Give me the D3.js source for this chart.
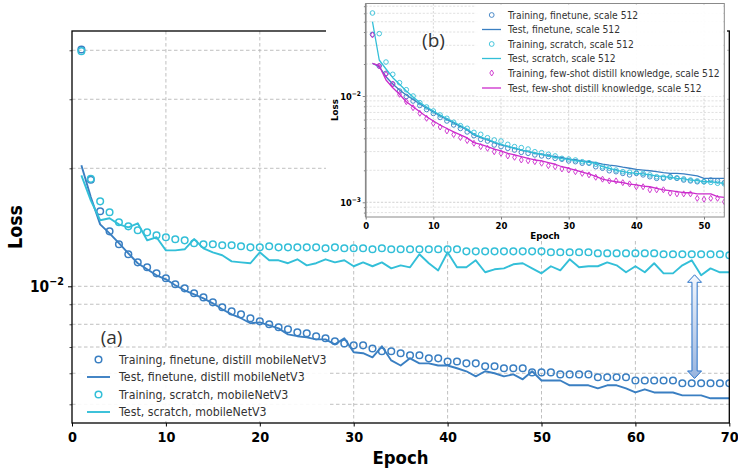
<!DOCTYPE html>
<html><head><meta charset="utf-8">
<script src="https://cdn.jsdelivr.net/npm/d3@7"></script>
<style>body{margin:0;background:#fff}svg{display:block}</style>
</head><body>
<svg id="c" width="738" height="468"></svg>
<script>
// ---------------- DATA ----------------
const mainEpochs = d3.range(1, 71);
const mainXTicks = [0,10,20,30,40,50,60,70];
const mainYGrid = [0.005,0.006,0.007,0.008,0.009,0.01,0.02,0.03,0.04];
const mainLabels = ["Training, finetune, distill mobileNetV3","Test, finetune, distill mobileNetV3","Training, scratch, mobileNetV3","Test, scratch, mobileNetV3"];

const mainTrainFinetune = [0.0402,0.0187,0.01554,0.01381,0.01280,0.01207,0.01151,0.01118,0.01079,0.01048,
0.01012,0.00988,0.00960,0.00937,0.00910,0.00884,0.00863,0.00848,0.00829,0.00814,
0.00800,0.00786,0.00777,0.00763,0.00759,0.00746,0.00737,0.00724,0.00715,0.00707,
0.00707,0.00694,0.00683,0.00683,0.00675,0.00667,0.00667,0.00655,0.00655,0.00643,
0.00643,0.00636,0.00636,0.00625,0.00625,0.00618,0.00618,0.00618,0.00603,0.00603,
0.00603,0.00596,0.00596,0.00596,0.00596,0.00586,0.00586,0.00586,0.00586,0.00575,
0.00575,0.00575,0.00575,0.00575,0.00566,0.00566,0.00566,0.00566,0.00566,0.00566];

const mainTestFinetune = [0.02035,0.0169,0.01439,0.01365,0.01288,0.01214,0.01145,0.01105,0.01067,0.01042,
0.01006,0.00977,0.00954,0.00932,0.00905,0.00874,0.00848,0.00829,0.00805,0.00809,
0.00795,0.00781,0.00754,0.00746,0.00741,0.00732,0.00732,0.00711,0.00737,0.00679,
0.00675,0.00659,0.00703,0.00647,0.00628,0.00655,0.00636,0.00636,0.00628,0.00628,
0.00618,0.00607,0.00589,0.00607,0.00600,0.00589,0.00596,0.00579,0.00607,0.00575,
0.00575,0.00575,0.00559,0.00559,0.00559,0.00549,0.00559,0.00559,0.00549,0.00536,
0.00546,0.00536,0.00536,0.00536,0.00527,0.00527,0.00527,0.00518,0.00518,0.00518];

const mainTrainScratch = [0.0398,0.0188,0.01647,0.01545,0.01457,0.01422,0.01390,0.01373,0.01349,0.01334,
0.01318,0.01310,0.01288,0.01280,0.01280,0.01273,0.01273,0.01265,0.01257,0.01257,
0.01265,0.01257,0.01257,0.01257,0.01257,0.01257,0.01250,0.01257,0.01250,0.01250,
0.01250,0.01243,0.01250,0.01243,0.01243,0.01243,0.01243,0.01243,0.01243,0.01243,
0.01243,0.01228,0.01228,0.01228,0.01228,0.01228,0.01228,0.01228,0.01228,0.01228,
0.01221,0.01221,0.01221,0.01221,0.01221,0.01214,0.01214,0.01214,0.01214,0.01214,
0.01214,0.01214,0.01207,0.01207,0.01207,0.01207,0.01207,0.01207,0.01207,0.01200];

const mainTestScratch = [0.01919,0.01657,0.01474,0.01491,0.01439,0.01414,0.01448,0.01310,0.01334,0.01235,
0.01235,0.01243,0.01320,0.01250,0.01221,0.01200,0.01158,0.01151,0.01145,0.01221,
0.01165,0.01165,0.01145,0.01172,0.01131,0.01145,0.01172,0.01151,0.01165,0.01125,
0.01151,0.01125,0.01151,0.01111,0.01131,0.01118,0.01207,0.01145,0.01098,0.01221,
0.01118,0.01118,0.01165,0.01086,0.01105,0.01111,0.01138,0.01145,0.01111,0.01079,
0.01125,0.01098,0.01172,0.01118,0.01125,0.01125,0.01151,0.01131,0.01086,0.01125,
0.01086,0.01145,0.01079,0.01079,0.01131,0.01165,0.01067,0.01111,0.01086,0.01086];

// gap arrow annotation (epoch, loss at top, loss at bottom)
const gapArrow = {epoch: 66.3, top: 0.0107, bottom: 0.00582};

const insetEpochs = d3.range(1, 54);
const insetXTicks = [0,10,20,30,40,50];
const insetYGrid = [0.0008,0.0009,0.001,0.002,0.003,0.004,0.005,0.006,0.007,0.008,0.009,0.01,0.02,0.03,0.04,0.05,0.06,0.07];
const insetLabels = ["Training, finetune, scale 512","Test, finetune, scale 512","Training, scratch, scale 512","Test, scratch, scale 512","Training, few-shot distill knowledge, scale 512","Test, few-shot distill knowledge, scale 512"];

const insetTrainFinetune = [0.0380,0.01915,0.01635,0.01297,0.01114,0.00989,0.00897,0.00814,0.00746,0.00685,
0.00628,0.00582,0.00534,0.00495,0.00459,0.00423,0.00391,0.00377,0.00346,0.00334,
0.00322,0.00310,0.00295,0.00289,0.00279,0.00273,0.00269,0.00259,0.00254,0.00245,
0.00241,0.00233,0.00233,0.00216,0.00209,0.00198,0.00194,0.00187,0.00181,0.00187,
0.00181,0.00174,0.00168,0.00168,0.00174,0.00168,0.00162,0.00159,0.00156,0.00156,
0.00162,0.00159,0.00153];
const insetTestFinetune = [0.0203,0.01886,0.01519,0.01297,0.01139,0.01022,0.00927,0.00841,0.00771,0.00707,
0.00648,0.00601,0.00557,0.00516,0.00479,0.00430,0.00405,0.00386,0.00364,0.00346,
0.00334,0.00322,0.00310,0.00299,0.00289,0.00283,0.00274,0.00269,0.00263,0.00255,
0.00250,0.00245,0.00241,0.00236,0.00229,0.00224,0.00220,0.00214,0.00209,0.00204,
0.00201,0.00198,0.00194,0.00190,0.00187,0.00187,0.00185,0.00181,0.00177,0.00168,
0.00168,0.00168,0.00168];
const insetTrainScratch = [0.0604,0.0386,0.02088,0.0160,0.01334,0.01146,0.0100,0.00865,0.00788,0.00723,
0.00663,0.00617,0.00566,0.00526,0.00497,0.00455,0.00436,0.00405,0.00386,0.00377,
0.00351,0.00334,0.00327,0.00317,0.00299,0.00293,0.00283,0.00273,0.00259,0.00255,
0.00250,0.00241,0.00236,0.00228,0.00216,0.00209,0.00201,0.00194,0.00192,0.00190,
0.00187,0.00181,0.00174,0.00172,0.00172,0.00170,0.00166,0.00162,0.00159,0.00156,
0.00154,0.00151,0.00149];
const insetTestScratch = [0.0500,0.02182,0.01795,0.01486,0.01288,0.01114,0.00979,0.00869,0.00788,0.00723,
0.00663,0.00614,0.00569,0.00528,0.00489,0.00436,0.00411,0.00390,0.00369,0.00350,
0.00335,0.00324,0.00310,0.00301,0.00291,0.00282,0.00273,0.00264,0.00258,0.00253,
0.00247,0.00242,0.00237,0.00233,0.00216,0.00209,0.00201,0.00194,0.00190,0.00187,
0.00185,0.00181,0.00177,0.00174,0.00172,0.00168,0.00166,0.00162,0.00160,0.00156,
0.00156,0.00153,0.00151];
const insetTrainFewshot = [0.0375,0.01915,0.0160,0.01297,0.01038,0.00884,0.00776,0.00688,0.00617,0.00554,
0.00511,0.00469,0.00434,0.00407,0.00381,0.00359,0.00334,0.00322,0.00299,0.00289,
0.00273,0.00265,0.00250,0.00246,0.00241,0.00233,0.00221,0.00216,0.00206,0.00201,
0.00194,0.00187,0.00181,0.00172,0.00165,0.00159,0.00159,0.00153,0.00149,0.00140,
0.00140,0.00131,0.00131,0.00131,0.00122,0.00120,0.00120,0.00120,0.00109,0.00107,
0.00109,0.00109,0.00101];
const insetTestFewshot = [0.0203,0.0193,0.01414,0.01197,0.01038,0.00884,0.00793,0.00712,0.00639,0.00582,
0.00534,0.00495,0.00459,0.00430,0.00403,0.00364,0.00351,0.00334,0.00317,0.00304,
0.00289,0.00279,0.00269,0.00259,0.00250,0.00245,0.00236,0.00228,0.00216,0.00209,
0.00201,0.00192,0.00185,0.00175,0.00165,0.00160,0.00156,0.00153,0.00148,0.00146,
0.00142,0.00140,0.00135,0.00131,0.00129,0.00126,0.00123,0.00123,0.00120,0.00120,
0.00120,0.00113,0.00111];

// ---------------- STYLE ----------------
const BLUE = "#3a7fc2", CYAN = "#33bfd8", MAG = "#cc2ccc";
const FONT = "DejaVu Sans";
const SX = 0.92;

const svg = d3.select("#c");

function label(parent, x, y, str, o = {}) {
  const g = parent.append("g").attr("transform",
    `translate(${x},${y}) rotate(${o.rotate || 0}) scale(${o.sx == null ? SX : o.sx},1)`);
  return g.append("text")
    .attr("text-anchor", o.anchor || "start")
    .attr("dominant-baseline", "central")
    .attr("font-family", o.family || FONT)
    .attr("font-size", o.size || 12)
    .attr("font-weight", o.weight || "normal")
    .attr("fill", o.color || "#000")
    .text(str);
}
function sciLabel(parent, x, y, exp, size, supSize) {
  const g = parent.append("g").attr("transform", `translate(${x},${y}) scale(${SX},1)`);
  const t = g.append("text").attr("text-anchor", "end").attr("dominant-baseline", "central")
    .attr("font-family", FONT).attr("font-weight", "bold").attr("font-size", size);
  t.append("tspan").text("10");
  t.append("tspan").attr("font-size", supSize).attr("dy", -size * 0.42).text("\u2212" + exp);
}

// ---------------- MAIN PLOT ----------------
const X0 = 72, X1 = 729.3, Y0 = 31, Y1 = 423;
const xM = d3.scaleLinear().domain([0, 70]).range([X0, X1]);
const yM = d3.scaleLog().domain([0.00448, 0.0448]).range([Y1, Y0]);

const defs = svg.append("defs");
defs.append("clipPath").attr("id", "clipMain").append("rect")
  .attr("x", X0).attr("y", Y0).attr("width", X1 - X0).attr("height", Y1 - Y0);

const grid = svg.append("g").attr("stroke", "#b0b0b0").attr("stroke-width", 0.8).attr("stroke-dasharray", "3.5,2.5");
grid.selectAll("line.h").data(mainYGrid).join("line").attr("class", "h")
  .attr("x1", X0).attr("x2", X1).attr("y1", d => yM(d)).attr("y2", d => yM(d));
grid.selectAll("line.v").data(mainXTicks.slice(1, -1)).join("line").attr("class", "v")
  .attr("x1", d => xM(d)).attr("x2", d => xM(d)).attr("y1", Y0).attr("y2", Y1);

const plotM = svg.append("g").attr("clip-path", "url(#clipMain)");
const lineM = d3.line().x((d, i) => xM(mainEpochs[i])).y(d => yM(d));

function circlesM(data, color) {
  plotM.append("g").selectAll("circle").data(data).join("circle")
    .attr("cx", (d, i) => xM(mainEpochs[i])).attr("cy", d => yM(d)).attr("r", 3.3)
    .attr("fill", "none").attr("stroke", color).attr("stroke-width", 1.5);
}
function pathM(data, color) {
  plotM.append("path").datum(data).attr("d", lineM).attr("fill", "none")
    .attr("stroke", color).attr("stroke-width", 1.9).attr("stroke-linejoin", "round");
}
circlesM(mainTrainFinetune, BLUE);
pathM(mainTestFinetune, BLUE);
circlesM(mainTrainScratch, CYAN);
pathM(mainTestScratch, CYAN);

// axes
const axX = svg.append("g").attr("transform", `translate(0,${Y1})`)
  .call(d3.axisBottom(xM).tickValues(mainXTicks).tickSize(3.5).tickPadding(6).tickFormat(d3.format("d")));
axX.select(".domain").remove();
axX.selectAll("text").attr("font-family", FONT).attr("font-size", 14).attr("font-weight", "bold")
  .attr("fill", "#000").attr("transform", `scale(${SX},1)`);
axX.selectAll("line").attr("stroke", "#000").attr("stroke-width", 1);

const axY = svg.append("g").attr("transform", `translate(${X0},0)`)
  .call(d3.axisLeft(yM).tickValues(mainYGrid).tickFormat(() => "").tickSizeOuter(0));
axY.select(".domain").remove();
axY.selectAll(".tick line").attr("stroke", "#000")
  .attr("x2", d => d === 0.01 ? -4 : -2.5).attr("stroke-width", d => d === 0.01 ? 1 : 0.7);
sciLabel(svg, 64, 287, "2", 15, 10.5);

// frame
svg.append("rect").attr("x", X0).attr("y", Y0).attr("width", X1 - X0).attr("height", Y1 - Y0)
  .attr("fill", "none").attr("stroke", "#000").attr("stroke-width", 1.3);

label(svg, 400.5, 458, "Epoch", {size: 18, weight: "bold", anchor: "middle"});
label(svg, 15, 227, "Loss", {size: 19, weight: "bold", anchor: "middle", rotate: -90});

// main legend
const legM = svg.append("g");
legM.append("rect").attr("x", 76).attr("y", 348).attr("width", 252).attr("height", 72).attr("fill", "#fff").attr("opacity", 0.9);
const legRowsM = [359.5, 377, 394.5, 412];
const legTypesM = [["c", BLUE], ["l", BLUE], ["c", CYAN], ["l", CYAN]];
legTypesM.forEach(([t, col], i) => {
  const y = legRowsM[i];
  if (t === "c") legM.append("circle").attr("cx", 98.5).attr("cy", y).attr("r", 3.3).attr("fill", "none").attr("stroke", col).attr("stroke-width", 1.5);
  else legM.append("line").attr("x1", 87).attr("x2", 110).attr("y1", y).attr("y2", y).attr("stroke", col).attr("stroke-width", 1.9);
  label(legM, 119, y, mainLabels[i], {size: 12, color: "#333"});
});
label(svg, 111.5, 337, "(a)", {size: 19, family: "Open Sans", color: "#333", anchor: "middle", sx: 1});

// gap arrow
const grad = defs.append("linearGradient").attr("id", "arrGrad").attr("x1", 0).attr("y1", 0).attr("x2", 0).attr("y2", 1);
grad.append("stop").attr("offset", 0).attr("stop-color", "#f5f8fd");
grad.append("stop").attr("offset", 1).attr("stop-color", "#98b4de");
{
  const ax = xM(gapArrow.epoch), at = yM(gapArrow.top), ab = yM(gapArrow.bottom);
  const hw = 7, hh = 7.5, sw = 2.6;
  const pts = [[ax, at], [ax + hw, at + hh], [ax + sw, at + hh], [ax + sw, ab - hh], [ax + hw, ab - hh], [ax, ab],
    [ax - hw, ab - hh], [ax - sw, ab - hh], [ax - sw, at + hh], [ax - hw, at + hh]];
  svg.append("path").attr("d", "M" + pts.map(p => p.join(",")).join("L") + "Z")
    .attr("fill", "url(#arrGrad)").attr("stroke", "#2a73c9").attr("stroke-width", 1);
}

// ---------------- INSET ----------------
svg.append("rect").attr("x", 326).attr("y", 0).attr("width", 401).attr("height", 241).attr("fill", "#fff");

const IX0 = 365.7, IX1 = 724.3, IY0 = 3.5, IY1 = 217;
const xI = d3.scaleLinear().domain([0, 53]).range([IX0, IX1]);
const yI = d3.scaleLog().domain([7.27e-4, 0.0742]).range([IY1, IY0]);
defs.append("clipPath").attr("id", "clipIn").append("rect")
  .attr("x", IX0).attr("y", IY0).attr("width", IX1 - IX0).attr("height", IY1 - IY0);

const gridI = svg.append("g").attr("stroke", "#cfcfcf").attr("stroke-width", 0.7).attr("stroke-dasharray", "2.2,1.6");
gridI.selectAll("line.h").data(insetYGrid).join("line").attr("class", "h")
  .attr("x1", IX0).attr("x2", IX1).attr("y1", d => yI(d)).attr("y2", d => yI(d))
  .attr("stroke", d => (d === 0.01 || d === 0.001) ? "#bdbdbd" : "#d4d4d4");
gridI.selectAll("line.v").data(insetXTicks.slice(1)).join("line").attr("class", "v")
  .attr("x1", d => xI(d)).attr("x2", d => xI(d)).attr("y1", IY0).attr("y2", IY1).attr("stroke", "#c4c4c4");

const plotI = svg.append("g").attr("clip-path", "url(#clipIn)");
const lineI = d3.line().x((d, i) => xI(insetEpochs[i])).y(d => yI(d));
function circlesI(data, color) {
  plotI.append("g").selectAll("circle").data(data).join("circle")
    .attr("cx", (d, i) => xI(insetEpochs[i])).attr("cy", d => yI(d)).attr("r", 2.3)
    .attr("fill", "none").attr("stroke", color).attr("stroke-width", 0.9);
}
function diamondsI(data, color) {
  plotI.append("g").selectAll("path").data(data).join("path")
    .attr("transform", (d, i) => `translate(${xI(insetEpochs[i])},${yI(d)})`)
    .attr("d", "M0,-3L1.9,0L0,3L-1.9,0Z")
    .attr("fill", "none").attr("stroke", color).attr("stroke-width", 0.9);
}
function pathI(data, color) {
  plotI.append("path").datum(data).attr("d", lineI).attr("fill", "none")
    .attr("stroke", color).attr("stroke-width", 1.3).attr("stroke-linejoin", "round");
}
circlesI(insetTrainFinetune, BLUE);
pathI(insetTestFinetune, BLUE);
circlesI(insetTrainScratch, CYAN);
pathI(insetTestScratch, CYAN);
diamondsI(insetTrainFewshot, MAG);
pathI(insetTestFewshot, MAG);

const axXI = svg.append("g").attr("transform", `translate(0,${IY1})`)
  .call(d3.axisBottom(xI).tickValues(insetXTicks).tickSize(2.5).tickPadding(3).tickFormat(d3.format("d")));
axXI.select(".domain").remove();
axXI.selectAll("text").attr("font-family", FONT).attr("font-size", 8.5).attr("font-weight", "bold").attr("fill", "#000");
axXI.selectAll("line").attr("stroke", "#555").attr("stroke-width", 0.8);

const axYI = svg.append("g").attr("transform", `translate(${IX0},0)`)
  .call(d3.axisLeft(yI).tickValues(insetYGrid).tickFormat(() => "").tickSizeOuter(0));
axYI.select(".domain").remove();
axYI.selectAll(".tick line").attr("stroke", "#555")
  .attr("x2", d => (d === 0.01 || d === 0.001) ? -3 : -1.8).attr("stroke-width", 0.7);
sciLabel(svg, 361, 96.5, "2", 9, 6.5);
sciLabel(svg, 361, 203, "3", 9, 6.5);

svg.append("rect").attr("x", IX0).attr("y", IY0).attr("width", IX1 - IX0).attr("height", IY1 - IY0)
  .attr("fill", "none").attr("stroke", "#8a8a8a").attr("stroke-width", 1);
svg.append("line").attr("x1", IX0).attr("x2", IX0).attr("y1", IY0).attr("y2", IY1)
  .attr("stroke", "#888").attr("stroke-width", 1.6);

label(svg, 545, 236, "Epoch", {size: 9.5, weight: "bold", anchor: "middle"});
label(svg, 335, 110, "Loss", {size: 9.5, weight: "bold", anchor: "middle", rotate: -90});

// inset legend
const legI = svg.append("g");
legI.append("rect").attr("x", 476).attr("y", 5).attr("width", 247).attr("height", 91).attr("fill", "#fff").attr("opacity", 0.92);
const legRowsI = [15, 29.5, 44, 58.5, 73, 88];
const legTypesI = [["c", BLUE], ["l", BLUE], ["c", CYAN], ["l", CYAN], ["d", MAG], ["l", MAG]];
legTypesI.forEach(([t, col], i) => {
  const y = legRowsI[i];
  if (t === "c") legI.append("circle").attr("cx", 491.7).attr("cy", y).attr("r", 2.4).attr("fill", "none").attr("stroke", col).attr("stroke-width", 0.9);
  else if (t === "d") legI.append("path").attr("transform", `translate(491.7,${y})`).attr("d", "M0,-3L1.9,0L0,3L-1.9,0Z").attr("fill", "none").attr("stroke", col).attr("stroke-width", 0.9);
  else legI.append("line").attr("x1", 482).attr("x2", 501).attr("y1", y).attr("y2", y).attr("stroke", col).attr("stroke-width", 1.3);
  label(legI, 508, y, insetLabels[i], {size: 10, color: "#333"});
});
label(svg, 433.5, 40, "(b)", {size: 19, family: "Open Sans", color: "#333", anchor: "middle", sx: 1});
</script>
</body></html>
